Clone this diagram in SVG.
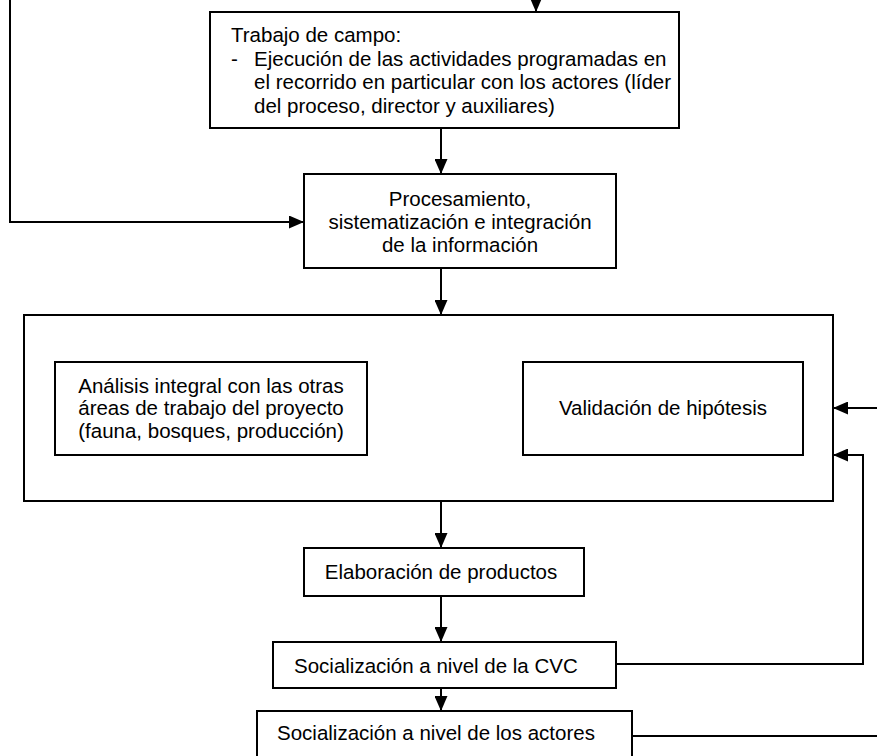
<svg xmlns="http://www.w3.org/2000/svg" width="877" height="756" viewBox="0 0 877 756">
<defs>
<marker id="ah" markerWidth="15" markerHeight="13" refX="15" refY="6.5" orient="auto-start-reverse" markerUnits="userSpaceOnUse">
<path d="M0,0 L15,6.5 L0,13 z" fill="#000"/>
</marker>
<style>
.box{fill:#fff;stroke:#000;stroke-width:2}
.ln{fill:none;stroke:#000;stroke-width:2}
.t{font-family:"Liberation Sans",Arial,sans-serif;font-size:20.5px;fill:#000}
.c{text-anchor:middle}
</style>
</defs>
<rect width="877" height="756" fill="#fff"/>
<g id="connectors">
<line class="ln" x1="536" y1="0" x2="536" y2="12" marker-end="url(#ah)"/>
<polyline class="ln" points="10,0 10,222 304,222" marker-end="url(#ah)"/>
<line class="ln" x1="441" y1="128" x2="441" y2="174" marker-end="url(#ah)"/>
<line class="ln" x1="441" y1="268" x2="441" y2="315" marker-end="url(#ah)"/>
<line class="ln" x1="367" y1="408" x2="523" y2="408" marker-start="url(#ah)" marker-end="url(#ah)"/>
<line class="ln" x1="877" y1="408" x2="833" y2="408" marker-end="url(#ah)"/>
<polyline class="ln" points="616,664 863,664 863,455 833,455" marker-end="url(#ah)"/>
<line class="ln" x1="441" y1="501" x2="441" y2="548" marker-end="url(#ah)"/>
<line class="ln" x1="441" y1="596" x2="441" y2="642" marker-end="url(#ah)"/>
<line class="ln" x1="441" y1="688" x2="441" y2="711" marker-end="url(#ah)"/>
<line class="ln" x1="632" y1="736" x2="877" y2="736"/>
</g>
<g id="trabajo">
<rect class="box" x="210" y="12" width="469" height="116"/>
<text class="t" x="231" y="42">Trabajo de campo:</text>
<text class="t" x="231" y="65.5">-</text>
<text class="t" x="254" y="65.5">Ejecución de las actividades programadas en</text>
<text class="t" x="254" y="89">el recorrido en particular con los actores (líder</text>
<text class="t" x="254" y="112.5">del proceso, director y auxiliares)</text>
</g>
<g id="procesamiento">
<rect class="box" x="304" y="174" width="312" height="94"/>
<text class="t c" x="460" y="206">Procesamiento,</text>
<text class="t c" x="460" y="229">sistematización e integración</text>
<text class="t c" x="460" y="252">de la información</text>
</g>
<g id="analisis-grupo">
<rect class="box" x="24" y="315" width="809" height="186"/>
</g>
<g id="analisis">
<rect class="box" x="55" y="362" width="312" height="93"/>
<text class="t c" x="211" y="393">Análisis integral con las otras</text>
<text class="t c" x="211" y="415">áreas de trabajo del proyecto</text>
<text class="t c" x="211" y="438">(fauna, bosques, producción)</text>
</g>
<g id="validacion">
<rect class="box" x="523" y="362" width="280" height="93"/>
<text class="t c" x="663" y="415">Validación de hipótesis</text>
</g>
<g id="elaboracion">
<rect class="box" x="304" y="548" width="280" height="48"/>
<text class="t c" x="441" y="579">Elaboración de productos</text>
</g>
<g id="socializacion-cvc">
<rect class="box" x="273" y="642" width="343" height="46"/>
<text class="t" x="294" y="673">Socialización a nivel de la CVC</text>
</g>
<g id="socializacion-actores">
<rect class="box" x="257" y="711" width="375" height="60"/>
<text class="t" x="277" y="740">Socialización a nivel de los actores</text>
</g>
</svg>
